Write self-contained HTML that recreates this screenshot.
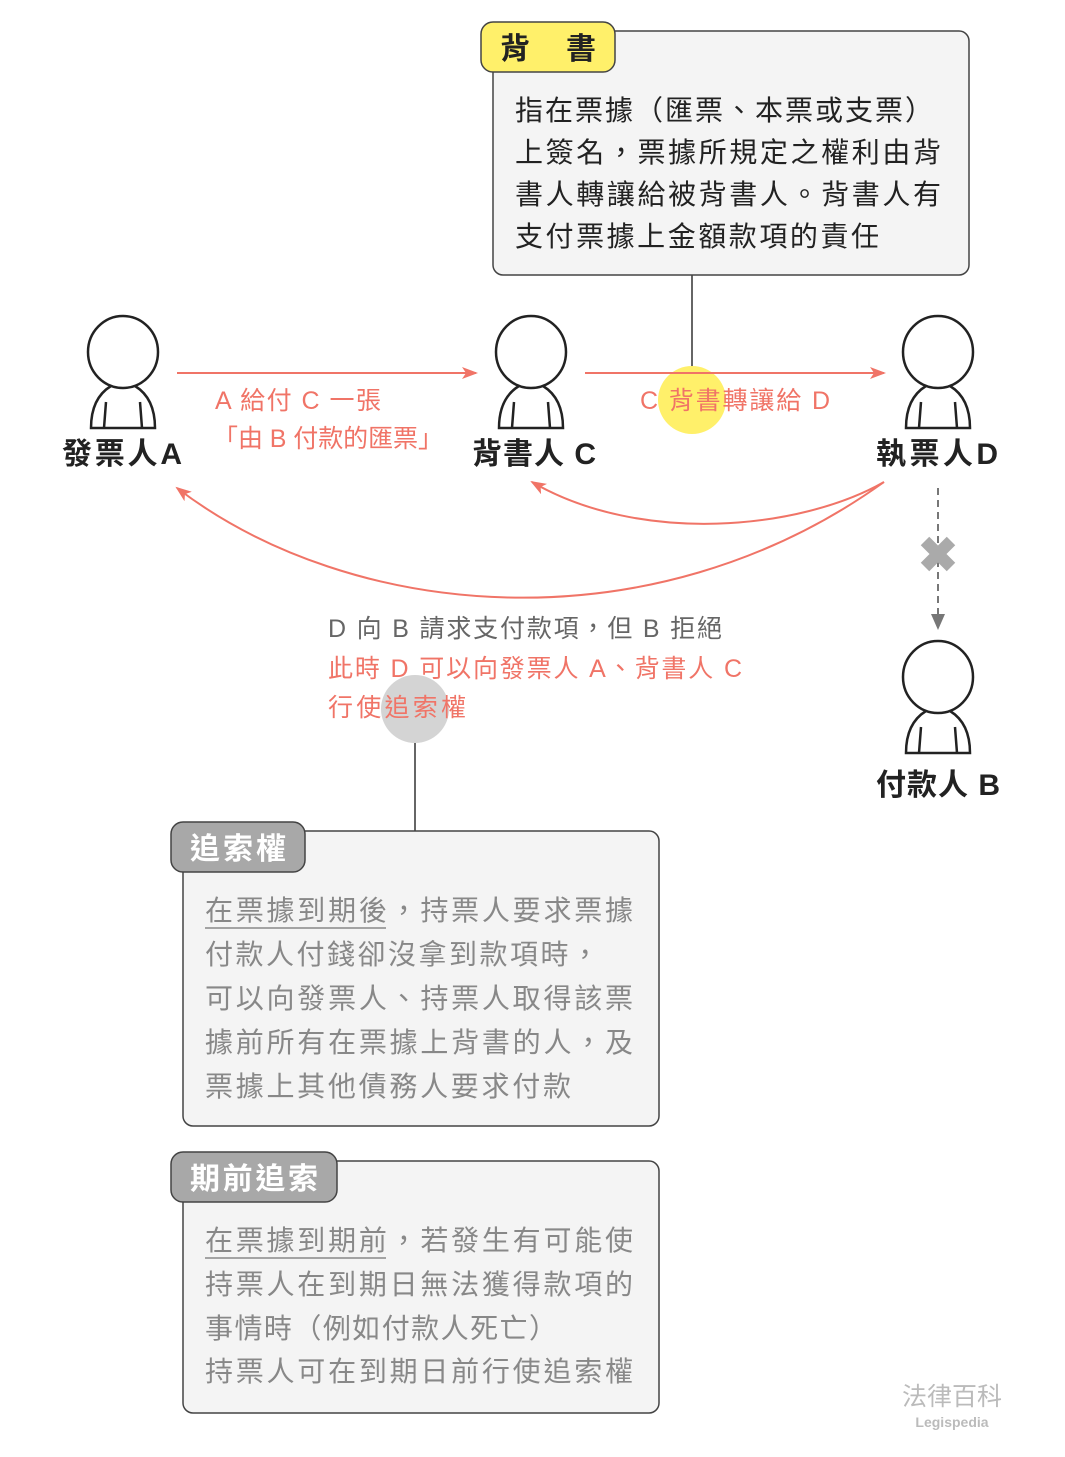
<!DOCTYPE html>
<html><head><meta charset="utf-8"><style>
body{margin:0;background:#fff;}
svg text{font-family:"Liberation Sans","Noto Sans CJK TC",sans-serif;}
</style></head><body>
<svg width="1065" height="1452" viewBox="0 0 1065 1452" xmlns="http://www.w3.org/2000/svg">
<defs>
<g id="p" fill="#fff" stroke="#222" stroke-width="2.5">
<path d="M-12,34 C-30,45 -32,65 -32,76 L32,76 C32,65 30,45 12,34"/>
<ellipse cx="0" cy="0" rx="35" ry="36"/>
<path d="M-19,76 L-17,50 M19,76 L17,50" fill="none"/>
</g>
<marker id="ar" markerWidth="16" markerHeight="12" refX="14" refY="6" orient="auto" markerUnits="userSpaceOnUse"><path d="M0,0 L16,6 L0,12 L4,6z" fill="#f07467"/></marker>
</defs>

<line x1="692" y1="275" x2="692" y2="380" stroke="#333" stroke-width="1.5"/>
<rect x="493" y="31" width="476" height="244" rx="10" fill="#f4f4f4" stroke="#444" stroke-width="1.5"/>
<rect x="481" y="22" width="134" height="50" rx="12" fill="#fff06a" stroke="#444" stroke-width="1.5"/>
<text x="500" y="59" font-size="30" font-weight="bold" fill="#222" textLength="96">背　書</text>
<g font-size="28" fill="#222">
<text x="515" y="120" textLength="418">指在票據（匯票、本票或支票）</text>
<text x="515" y="162" textLength="426">上簽名，票據所規定之權利由背</text>
<text x="515" y="204" textLength="426">書人轉讓給被背書人。背書人有</text>
<text x="515" y="246" textLength="364">支付票據上金額款項的責任</text>
</g>

<circle cx="692" cy="400" r="34" fill="#fff06a"/>

<use href="#p" x="123" y="352"/>
<use href="#p" x="531" y="352"/>
<use href="#p" x="938" y="352"/>
<use href="#p" x="938" y="677"/>
<g font-size="30" fill="#222" font-weight="bold">
<text x="62" y="464" textLength="120">發票人A</text>
<text x="472" y="464" textLength="124">背書人 C</text>
<text x="876" y="464" textLength="122">執票人D</text>
<text x="876" y="795" textLength="124">付款人 B</text>
</g>

<g stroke="#f07467" stroke-width="2" fill="none">
<line x1="177" y1="373" x2="476" y2="373" marker-end="url(#ar)"/>
<line x1="585" y1="373" x2="884" y2="373" marker-end="url(#ar)"/>
<path d="M884,482 C800,530 640,545 532,482" marker-end="url(#ar)"/>
<path d="M884,482 C650,650 350,620 177,488" marker-end="url(#ar)"/>
</g>
<g font-size="25" fill="#f07467">
<text x="215" y="409" textLength="166">A 給付 C 一張</text>
<text x="213" y="447" textLength="230">「由 B 付款的匯票」</text>
<text x="640" y="409" textLength="190">C 背書轉讓給 D</text>
</g>

<line x1="938" y1="488" x2="938" y2="615" stroke="#777" stroke-width="2" stroke-dasharray="7,5"/>
<path d="M931,614 L938,630 L945,614z" fill="#777"/>
<path d="M925,541 L951,567 M951,541 L925,567" stroke="#aaa" stroke-width="12"/>

<circle cx="415" cy="709" r="34" fill="#d4d4d4"/>
<line x1="415" y1="743" x2="415" y2="831" stroke="#333" stroke-width="1.5"/>
<text x="328" y="637" font-size="25" fill="#666" textLength="394">D 向 B 請求支付款項，但 B 拒絕</text>
<text x="328" y="677" font-size="25" fill="#f07467" textLength="414">此時 D 可以向發票人 A、背書人 C</text>
<text x="328" y="716" font-size="25" fill="#f07467" textLength="138">行使追索權</text>

<rect x="183" y="831" width="476" height="295" rx="10" fill="#f4f4f4" stroke="#444" stroke-width="1.5"/>
<rect x="171" y="822" width="134" height="50" rx="12" fill="#a8a8a8" stroke="#444" stroke-width="1.5"/>
<text x="190" y="859" font-size="30" font-weight="bold" fill="#fff" textLength="96">追索權</text>
<g font-size="28" fill="#888">
<text x="205" y="920" textLength="428">在票據到期後，持票人要求票據</text>
<text x="205" y="964" textLength="394">付款人付錢卻沒拿到款項時，</text>
<text x="205" y="1008" textLength="428">可以向發票人、持票人取得該票</text>
<text x="205" y="1052" textLength="428">據前所有在票據上背書的人，及</text>
<text x="205" y="1096" textLength="366">票據上其他債務人要求付款</text>
</g>
<line x1="205" y1="928" x2="386" y2="928" stroke="#888" stroke-width="1.5"/>

<rect x="183" y="1161" width="476" height="252" rx="10" fill="#f4f4f4" stroke="#444" stroke-width="1.5"/>
<rect x="171" y="1152" width="166" height="50" rx="12" fill="#a8a8a8" stroke="#444" stroke-width="1.5"/>
<text x="190" y="1189" font-size="30" font-weight="bold" fill="#fff" textLength="128">期前追索</text>
<g font-size="28" fill="#888">
<text x="205" y="1250" textLength="428">在票據到期前，若發生有可能使</text>
<text x="205" y="1294" textLength="428">持票人在到期日無法獲得款項的</text>
<text x="205" y="1338" textLength="352">事情時（例如付款人死亡）</text>
<text x="205" y="1381" textLength="428">持票人可在到期日前行使追索權</text>
</g>
<line x1="205" y1="1258" x2="386" y2="1258" stroke="#888" stroke-width="1.5"/>

<text x="952" y="1405" font-size="25" fill="#bbb" text-anchor="middle">法律百科</text>
<text x="952" y="1427" font-size="14" font-weight="bold" fill="#bbb" text-anchor="middle">Legispedia</text>
</svg>
</body></html>
